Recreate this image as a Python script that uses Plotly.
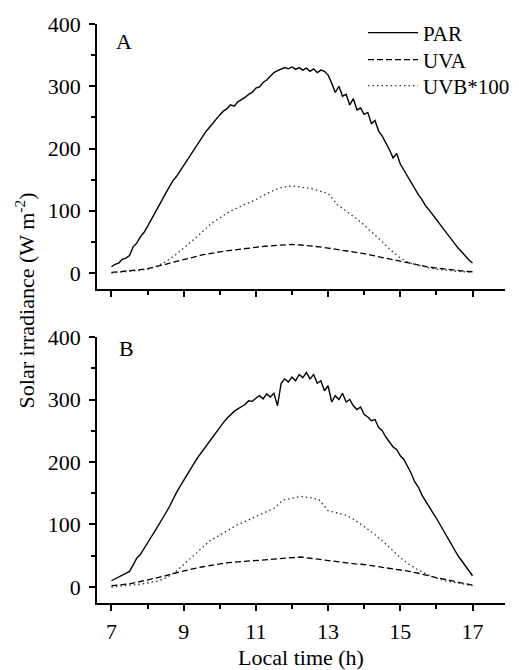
import numpy as np
import plotly.graph_objects as go
from plotly.subplots import make_subplots

# time grids (h)
t_par = [round(7 + 0.1 * i, 1) for i in range(101)]
t_uv = [round(7 + 0.25 * i, 2) for i in range(41)]

# Panel A
par_a = [10, 14, 16, 22, 24, 28, 42, 48, 58, 65,
         75, 85, 96, 106, 117, 128, 138, 148, 155, 164,
         172, 182, 191, 200, 209, 218, 226, 233, 240, 248,
         254, 260, 264, 270, 268, 275, 278, 282, 287, 290,
         297, 299, 306, 310, 316, 322, 325, 328, 330, 328,
         331, 327, 330, 326, 329, 324, 328, 322, 326, 324,
         318, 305, 290, 300, 284, 287, 270, 280, 262, 265,
         255, 258, 240, 245, 228, 220, 210, 198, 185, 192,
         175, 165, 155, 145, 136, 126, 118, 108, 101, 94,
         86, 78, 70, 62, 54, 47, 40, 34, 27, 21, 16]
uva_a = [1, 2, 4, 5, 7, 10, 14, 18, 21, 25, 29, 32, 34, 36, 38, 40, 41, 43, 44, 45,
         46, 45, 44, 42, 40, 38, 36, 33, 31, 28, 25, 22, 18, 15, 12, 10, 8, 6, 5, 3, 2]
uvb_a = [0, 1, 2, 4, 6, 11, 18, 28, 40, 52, 65, 79, 89, 98, 105, 111, 118, 126, 133, 138,
         140, 138, 136, 132, 128, 110, 100, 89, 77, 64, 50, 36, 24, 16, 12, 9, 6, 4, 3, 2, 1]

# Panel B
par_b = [10, 13, 16, 19, 22, 25, 35, 46, 52, 62,
         71, 80, 89, 98, 108, 118, 128, 140, 151, 161,
         171, 181, 191, 199, 208, 216, 225, 233, 240, 249,
         256, 263, 270, 276, 281, 285, 289, 292, 298, 297,
         302, 306, 301, 309, 304, 310, 290, 326, 333, 328,
         336, 330, 340, 335, 343, 333, 340, 326, 330, 314,
         322, 296, 306, 300, 310, 296, 300, 290, 284, 288,
         276, 272, 266, 268, 255, 250, 240, 232, 224, 220,
         210, 204, 193, 182, 168, 160, 147, 137, 128, 119,
         110, 100, 90, 79, 69, 58, 50, 42, 34, 26, 18]
uva_b = [2, 3, 5, 8, 11, 14, 18, 22, 26, 29, 32, 35, 37, 39, 40, 41, 42, 43, 44, 46,
         47, 48, 46, 44, 42, 40, 39, 37, 36, 34, 32, 30, 28, 25, 22, 18, 15, 12, 9, 6, 3]
uvb_b = [0, 2, 3, 4, 6, 9, 14, 23, 36, 49, 62, 75, 83, 92, 100, 106, 113, 119, 126, 139,
         142, 145, 143, 140, 122, 118, 115, 107, 97, 86, 74, 61, 47, 36, 27, 20, 14, 10, 7, 4, 2]

x_ticks = [7, 9, 11, 13, 15, 17]
y_ticks = [0, 100, 200, 300, 400]
names = ["PAR", "UVA", "UVB*100"]

FONT = "Liberation Serif"
FS = 22
fig = make_subplots(rows=2, cols=1, vertical_spacing=0.08)

legends = ["legend", "legend2", "legend3"]
styles = [dict(color="black", width=1.4),
          dict(color="black", width=1.3, dash="6px,3px"),
          dict(color="#333", width=1.3, dash="1.5px,3px")]

panels = [(par_a, uva_a, uvb_a), (par_b, uva_b, uvb_b)]
for r, (par, uva, uvb) in enumerate(panels, start=1):
    show = r == 1
    xs = [t_par, t_uv, t_uv]
    for k, yv in enumerate([par, uva, uvb]):
        fig.add_trace(go.Scatter(x=xs[k], y=yv, mode="lines", name=names[k], showlegend=show,
                                 legend=legends[k], line=styles[k]), row=r, col=1)

axis_common = dict(showline=True, linecolor="black", linewidth=1.5, ticks="outside",
                   tickcolor="black", tickwidth=1.5, ticklen=6, showgrid=False, zeroline=False,
                   tickfont=dict(family=FONT, size=FS, color="black"))
minor_x = dict(dtick=1, tick0=7, ticks="outside", ticklen=4, tickcolor="black", tickwidth=1.5)
minor_y = dict(dtick=50, tick0=0, ticks="outside", ticklen=4, tickcolor="black", tickwidth=1.5)

leg_common = dict(xanchor="left", yanchor="middle", bgcolor="rgba(0,0,0,0)",
                  font=dict(family=FONT, size=21), itemwidth=50, borderwidth=0)
leg_x = 0.652

# page has an 8px body margin: figure is drawn 8px in from the top-left corner
fig.update_layout(
    width=511, height=662,
    margin=dict(l=89, r=14, t=16, b=67, autoexpand=False),
    paper_bgcolor="white", plot_bgcolor="white",
    font=dict(family=FONT, size=FS, color="black"),
    xaxis=dict(domain=[0, 1], range=[6.6, 17.9], tickvals=x_ticks, showticklabels=False,
               minor=minor_x, ticklabelstandoff=2, **axis_common),
    xaxis2=dict(domain=[0, 1], range=[6.6, 17.9], tickvals=x_ticks, minor=minor_x,
                ticklabelstandoff=2,
                title=dict(text="Local time (h)", font=dict(family=FONT, size=FS), standoff=8),
                **axis_common),
    yaxis=dict(domain=[0.5423, 1], range=[-25.7, 400], tickvals=y_ticks, minor=minor_y,
               ticklabelstandoff=4, **axis_common),
    yaxis2=dict(domain=[0, 0.4594], range=[-25.6, 400], tickvals=y_ticks, minor=minor_y,
                ticklabelstandoff=4, **axis_common),
    legend=dict(x=leg_x, y=(603 - 33) / 579, **leg_common),
    legend2=dict(x=leg_x, y=(603 - 60) / 579, **leg_common),
    legend3=dict(x=leg_x, y=(603 - 86) / 579, **leg_common),
    annotations=[
        dict(text="A", xref="paper", yref="paper", x=0.066, y=0.969, showarrow=False,
             xanchor="center", yanchor="middle", font=dict(family=FONT, size=FS)),
        dict(text="B", xref="paper", yref="paper", x=0.0735, y=0.440, showarrow=False,
             xanchor="center", yanchor="middle", font=dict(family=FONT, size=FS)),
        dict(text="Solar irradiance (W m<sup>-2</sup>)", xref="paper", yref="paper",
             x=-0.176, y=0.523, textangle=-90, showarrow=False,
             xanchor="center", yanchor="middle", font=dict(family=FONT, size=FS)),
    ],
)

fig.write_html("out.html")
